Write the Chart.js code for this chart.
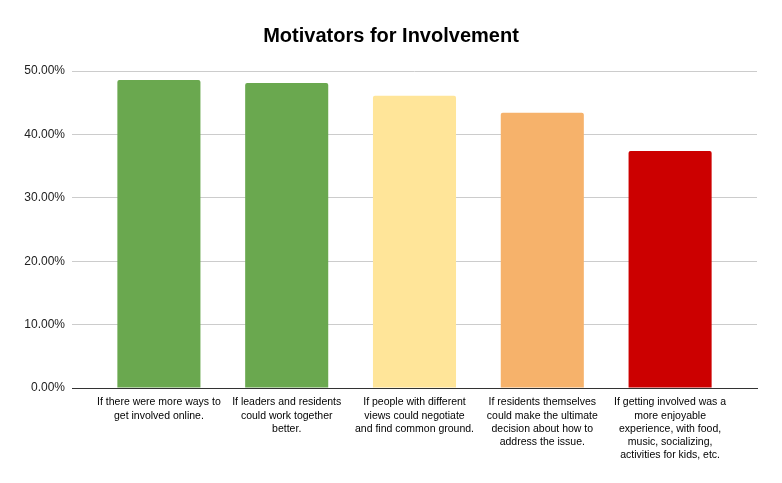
<!DOCTYPE html>
<html>
<head>
<meta charset="utf-8">
<script src="https://cdn.jsdelivr.net/npm/chart.js@4.4.1/dist/chart.umd.min.js"></script>
<style>
  html, body { margin: 0; padding: 0; background: #fff; }
  #wrap { width: 782px; height: 483px; }
</style>
</head>
<body>
<div id="wrap"><canvas id="chart"></canvas></div>
<script>
// categories, one line per row as in the picture
const categories = [
  ['If there were more ways to', 'get involved online.'],
  ['If leaders and residents', 'could work together', 'better.'],
  ['If people with different', 'views could negotiate', 'and find common ground.'],
  ['If residents themselves', 'could make the ultimate', 'decision about how to', 'address the issue.'],
  ['If getting involved was a', 'more enjoyable', 'experience, with food,', 'music, socializing,', 'activities for kids, etc.']
];
const values = [48.6, 48.1, 46.1, 43.4, 37.4];   // percent
const barColors = ['#6aa84f', '#6aa84f', '#ffe599', '#f6b26b', '#cc0000'];
const yTicks = [0, 10, 20, 30, 40, 50];

const fontFamily = '"Liberation Sans", Arial, sans-serif';

new Chart(document.getElementById('chart'), {
  type: 'bar',
  data: {
    datasets: [{
      label: 'Motivators',
      data: values.map((v, i) => ({ x: i, y: v })),
      backgroundColor: barColors,
      borderRadius: { topLeft: 2, topRight: 2 },
      borderSkipped: 'bottom',
      barPercentage: 0.65,
      categoryPercentage: 1
    }]
  },
  options: {
    responsive: true,
    maintainAspectRatio: false,
    animation: false,
    layout: { padding: 0 },
    plugins: {
      legend: { display: false },
      tooltip: { enabled: false },
      title: {
        display: true,
        text: 'Motivators for Involvement',
        color: '#000',
        font: { family: fontFamily, size: 20, weight: 'bold' },
        padding: { top: 24, bottom: 23 }
      }
    },
    scales: {
      x: {
        type: 'linear',
        offset: false,
        min: -0.68,
        max: 4.68,
        afterBuildTicks: s => { s.ticks = categories.map((_, i) => ({ value: i })); },
        afterFit: s => { s.height = 95; },
        grid: { display: false, drawTicks: false },
        border: { display: true, color: '#333', width: 1 },
        ticks: {
          autoSkip: false,
          maxRotation: 0,
          padding: 8,
          color: '#000',
          font: { family: fontFamily, size: 10.5, lineHeight: 1.25 },
          callback: v => categories[v]
        }
      },
      y: {
        min: 0,
        max: 50,
        afterBuildTicks: s => { s.ticks = yTicks.map(v => ({ value: v })); },
        afterFit: s => { s.width = 72; },
        grid: { color: '#cccccc', drawTicks: false },
        border: { display: false },
        ticks: {
          padding: 7,
          color: '#222',
          font: { family: fontFamily, size: 12 },
          callback: v => v.toFixed(2) + '%'
        }
      },
      // empty right axis, only keeps the right margin inside the chart
      yRight: {
        position: 'right',
        min: 0,
        max: 50,
        afterFit: s => { s.width = 25; },
        grid: { display: false, drawTicks: false },
        border: { display: false },
        ticks: { display: false }
      }
    }
  }
});
</script>
</body>
</html>
